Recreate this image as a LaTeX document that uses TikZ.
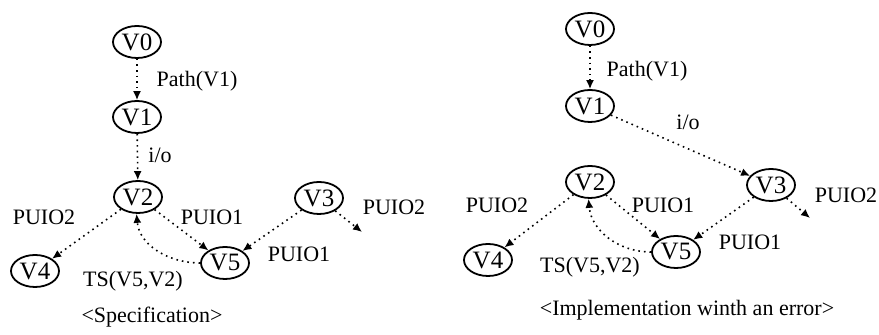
\documentclass[tikz,border=0pt]{standalone}
\usepackage{fontspec}
\setmainfont{Liberation Serif}
\usepackage{tikz}
\usetikzlibrary{arrows.meta,shapes.geometric}

\tikzset{
  vtx/.style={draw, ellipse, line width=0.9pt, minimum width=24pt, minimum height=16pt,
    inner sep=0pt, font=\fontsize{12.5}{14}\selectfont},
  tr/.style={dotted, line width=0.8pt, -{Latex[length=4.5pt,width=4pt]}},
  lbl/.style={draw=none, font=\fontsize{11}{13}\selectfont}
}

\begin{document}
\begin{tikzpicture}[x=0.5pt, y=-0.5pt]
             \useasboundingbox (0,0) rectangle (879,335);

             % specification
             \node[vtx] (s0) at (137, 42) {V0};
             \node[vtx] (s1) at (137,117) {V1};
             \node[vtx] (s2) at (138,197) {V2};
             \node[vtx] (s3) at (319,198) {V3};
             \node[vtx] (s4) at (35,271) {V4};
             \node[vtx] (s5) at (225,263) {V5};
             \coordinate (s3e) at (362,232);

             \draw[tr] (s0) -- (s1);
             \draw[tr] (s1) -- (s2);
             \draw[tr] (s2) -- (s4);
             \draw[tr] (s2) -- (s5);
             \draw[tr] (s3) -- (s5);
             \draw[tr] (s3) -- (s3e);
             \draw[tr] (s5.west) to[out=180, in=-85] (s2.265);

             \node[lbl] (sl0) at (197, 81) {Path(V1)};
             \node[lbl] (sl1) at (160,155) {i/o};
             \node[lbl] (sl2) at (44,217) {PUIO2};
             \node[lbl] (sl3) at (212,217) {PUIO1};
             \node[lbl] (sl4) at (394,207) {PUIO2};
             \node[lbl] (sl5) at (299,254) {PUIO1};
             \node[lbl] (sl6) at (133,281) {TS(V5,V2)};
             \node[lbl] (scap) at (152,317) {<Specification>};

             % implementation
             \begin{scope}[every node/.append style={minimum height=14pt}]
             \node[vtx] (i0) at (590, 29) {V0};
             \node[vtx] (i1) at (590,106) {V1};
             \node[vtx] (i2) at (590,182) {V2};
             \node[vtx] (i3) at (771,185) {V3};
             \node[vtx] (i4) at (488,260) {V4};
             \node[vtx] (i5) at (676,252) {V5};
             \end{scope}
             \coordinate (i3e) at (810,218);

             \draw[tr] (i0) -- (i1);
             \draw[tr] (i1) -- (i3);
             \draw[tr] (i2) -- (i4);
             \draw[tr] (i2) -- (i5);
             \draw[tr] (i3) -- (i5);
             \draw[tr] (i3) -- (i3e);
             \draw[tr] (i5.west) to[out=180, in=-85] (i2.265);

             \node[lbl] (il0) at (647, 71) {Path(V1)};
             \node[lbl] (il1) at (688,122) {i/o};
             \node[lbl] (il2) at (497,205) {PUIO2};
             \node[lbl] (il3) at (663,205) {PUIO1};
             \node[lbl] (il4) at (846,195) {PUIO2};
             \node[lbl] (il5) at (750,242) {PUIO1};
             \node[lbl] (il6) at (590,267) {TS(V5,V2)};
             \node[lbl] (icap) at (687,310) {<Implementation winth an error>};
\end{tikzpicture}
\end{document}
